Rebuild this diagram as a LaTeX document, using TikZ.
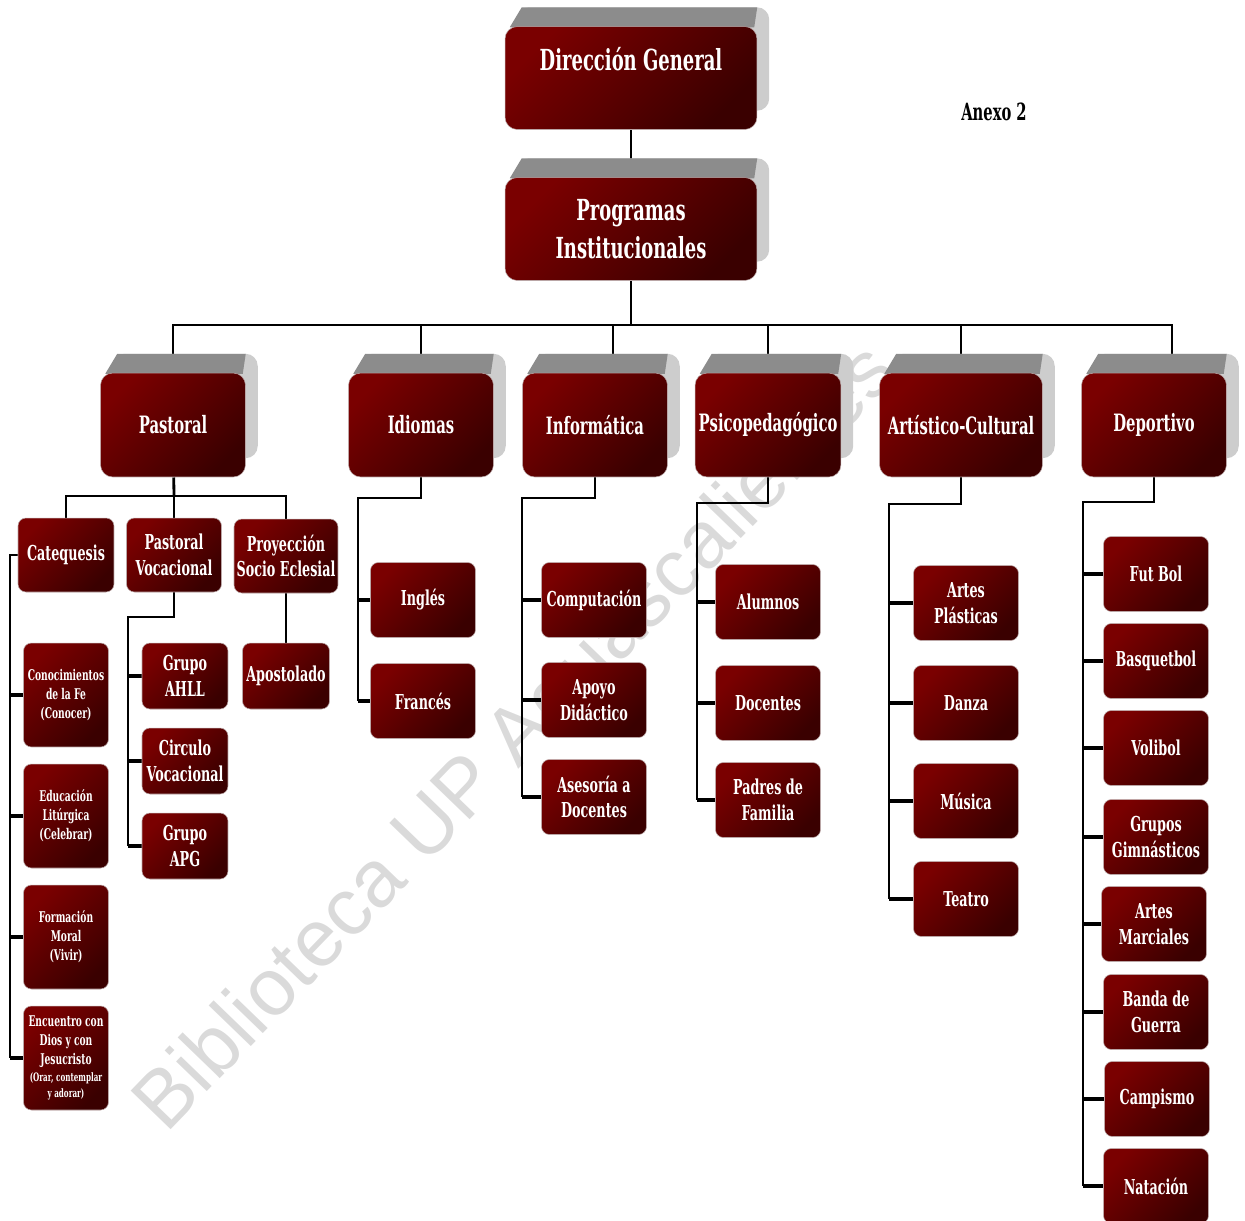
\documentclass[tikz,border=0pt]{standalone}
\usepackage{fontspec}
\newfontfamily\boxfont[FakeStretch=0.62]{DejaVu Serif}
\newfontfamily\markfont{Liberation Sans}
\usepackage{tikz}
\usetikzlibrary{shapes,backgrounds,calc}
\usepackage{xcolor}
\definecolor{boxlight}{RGB}{122,0,0}
\definecolor{boxdark}{RGB}{58,0,0}
\definecolor{topgray}{RGB}{140,140,140}
\definecolor{sidegray}{RGB}{205,205,205}
\definecolor{markgray}{RGB}{218,218,218}
\tikzstyle{link} = [line width=1.6pt,color=black]
\tikzstyle{stub} = [line width=2.6pt,color=black]

% grey depth behind the big boxes
\newcommand{\boxdepth}[1]{%
  \fill[sidegray, rounded corners=7pt] ([shift={(12,-19)}]#1.south west) rectangle ([shift={(12,-19)}]#1.north east);
  \fill[topgray] ([shift={(5,1)}]#1.north west) -- ([shift={(17,-19)}]#1.north west) -- ([shift={(0,-19)}]#1.north east) -- ([shift={(-3,1)}]#1.north east) -- cycle;}

\begin{document}
\begin{tikzpicture}[x=0.02cm, y=-0.02cm,
    head/.style={rectangle, rounded corners=7pt, top color=boxlight, bottom color=boxdark, shading angle=45, draw=boxdark!35!white, line width=0.3pt, text=white, align=center, inner sep=2pt, minimum width=5.04cm, minimum height=2.06cm, font=\boxfont\bfseries\fontsize{16.5}{21.5}\selectfont},
    area/.style={head, minimum width=2.9cm, minimum height=2.08cm, font=\boxfont\bfseries\fontsize{13.6}{17}\selectfont},
    unit/.style={rectangle, rounded corners=4.5pt, top color=boxlight, bottom color=boxdark, shading angle=45, draw=boxdark!35!white, line width=0.3pt, text=white, align=center, inner sep=1pt, minimum width=2.1cm, minimum height=1.5cm, font=\boxfont\bfseries\fontsize{11.7}{14.7}\selectfont},
    grp/.style={unit, minimum width=1.72cm, minimum height=1.32cm},
    tiny/.style={unit, minimum width=1.7cm, minimum height=2.08cm, font=\boxfont\bfseries\fontsize{8.4}{10.8}\selectfont}]

\useasboundingbox (0,0) rectangle (1245,1221);

% Top of the chart
\node[head] (dir) at (631,78) {Dirección General\\\mbox{}};
\node[head] (prog) at (631,229) {Programas\\Institucionales};
\node[font=\boxfont\bfseries\fontsize{13.5}{15}\selectfont] (anexo) at (994,112) {Anexo 2};

% Main areas
\node[area] (past) at (173,425) {Pastoral};
\node[area] (idio) at (421,425) {Idiomas};
\node[area] (info) at (595,425) {Informática};
\node[area] (psic) at (768,425) {Psicopedagógico};
\node[area, minimum width=3.26cm] (arte) at (961,425) {Artístico-Cultural};
\node[area] (depo) at (1154,425) {Deportivo};

% Pastoral
\node[unit, minimum width=1.92cm, minimum height=1.48cm] (cate) at (66,555) {Catequesis};
\node[unit, minimum width=1.9cm, minimum height=1.48cm] (pvoc) at (174,555) {Pastoral\\Vocacional};
\node[unit, minimum width=2.08cm, minimum height=1.48cm] (proy) at (286,556) {Proyección\\Socio Eclesial};

\node[tiny] (cono) at (66,695) {Conocimientos\\de la Fe\\(Conocer)};
\node[tiny] (educ) at (66,816) {Educación\\Litúrgica\\(Celebrar)};
\node[tiny] (form) at (66,937) {Formación\\Moral\\(Vivir)};
\node[tiny] (encu) at (66,1058) {Encuentro con\\Dios y con\\Jesucristo\\[-1pt]{\fontsize{6.6}{8}\selectfont(Orar, contemplar}\\[-2pt]{\fontsize{6.6}{8}\selectfont y adorar)}};

\node[grp] (ahll) at (185,676) {Grupo\\AHLL};
\node[grp] (circ) at (185,761) {Circulo\\Vocacional};
\node[grp] (apg) at (185,846) {Grupo\\APG};
\node[grp, minimum width=1.74cm] (apos) at (286,676) {Apostolado};

% Idiomas
\node[unit] (ingl) at (423,600) {Inglés};
\node[unit] (fran) at (423,701) {Francés};

% Informatica
\node[unit] (comp) at (594,600) {Computación};
\node[unit] (apoy) at (594,700) {Apoyo\\Didáctico};
\node[unit] (ases) at (594,797) {Asesoría a\\Docentes};

% Psicopedagogico
\node[unit] (alum) at (768,602) {Alumnos};
\node[unit] (doce) at (768,703) {Docentes};
\node[unit] (padr) at (768,800) {Padres de\\Familia};

% Artistico-Cultural
\node[unit] (apla) at (966,603) {Artes\\Plásticas};
\node[unit] (danz) at (966,703) {Danza};
\node[unit] (musi) at (966,801) {Música};
\node[unit] (teat) at (966,899) {Teatro};

% Deportivo
\node[unit] (futb) at (1156,574) {Fut Bol};
\node[unit] (basq) at (1156,661) {Basquetbol};
\node[unit] (voli) at (1156,748) {Volibol};
\node[unit] (gimn) at (1156,837) {Grupos\\Gimnásticos};
\node[unit] (marc) at (1154,924) {Artes\\Marciales};
\node[unit] (band) at (1156,1012) {Banda de\\Guerra};
\node[unit] (camp) at (1157,1099) {Campismo};
\node[unit] (nata) at (1156,1186) {Natación};

\begin{scope}[on background layer]
% watermark
\node[rotate=46, font=\markfont\fontsize{46}{46}\selectfont, text=markgray] (mark) at (518,740) {Biblioteca UP Aguascalientes};

% Connectors
\coordinate (bus) at (631,325);
\coordinate (infoT) at ([shift={(18,0)}]info.north);
\coordinate (depoT) at ([shift={(18,0)}]depo.north);
\draw[link] (dir) -- (prog);
\draw[link] (prog) -- (bus);
\draw[link] (past) |- (bus) -| (depoT);
\draw[link] (bus -| idio) -- (idio);
\draw[link] (bus -| infoT) -- (infoT);
\draw[link] (bus -| psic) -- (psic);
\draw[link] (bus -| arte) -- (arte);

\coordinate (pfan) at (174,496);
\draw[link] (past) -- (pfan);
\draw[link] (cate) |- (pfan) -| (proy);
\draw[link] (pfan) -- (pvoc);
\draw[link] (proy) -- (apos);

\coordinate (catebus) at (10,555);
\draw[link] (cate) -- (catebus) -- (catebus |- encu);
\foreach \n in {cono,educ,form,encu}
  \draw[stub] (catebus |- \n) -- (\n);

\coordinate (pvbus) at (128,617);
\draw[link] (pvoc) |- (pvbus) -- (pvbus |- apg);
\foreach \n in {ahll,circ,apg}
  \draw[stub] (pvbus |- \n) -- (\n);

\coordinate (idbus) at (358,498);
\draw[link] (idio) |- (idbus) -- (idbus |- fran);
\foreach \n in {ingl,fran}
  \draw[stub] (idbus |- \n) -- (\n);

\coordinate (infbus) at (522,498);
\draw[link] (info) |- (infbus) -- (infbus |- ases);
\foreach \n in {comp,apoy,ases}
  \draw[stub] (infbus |- \n) -- (\n);

\coordinate (psbus) at (697,503);
\draw[link] (psic) |- (psbus) -- (psbus |- padr);
\foreach \n in {alum,doce,padr}
  \draw[stub] (psbus |- \n) -- (\n);

\coordinate (arbus) at (889,504);
\draw[link] (arte) |- (arbus) -- (arbus |- teat);
\foreach \n in {apla,danz,musi,teat}
  \draw[stub] (arbus |- \n) -- (\n);

\coordinate (depbus) at (1083,502);
\draw[link] (depo) |- (depbus) -- (depbus |- nata);
\foreach \n in {futb,basq,voli,gimn,marc,band,camp,nata}
  \draw[stub] (depbus |- \n) -- (\n);

% depth of the big boxes
\foreach \n in {dir,prog,past,idio,info,psic,arte,depo}
  \boxdepth{\n};
\end{scope}

\end{tikzpicture}
\end{document}
